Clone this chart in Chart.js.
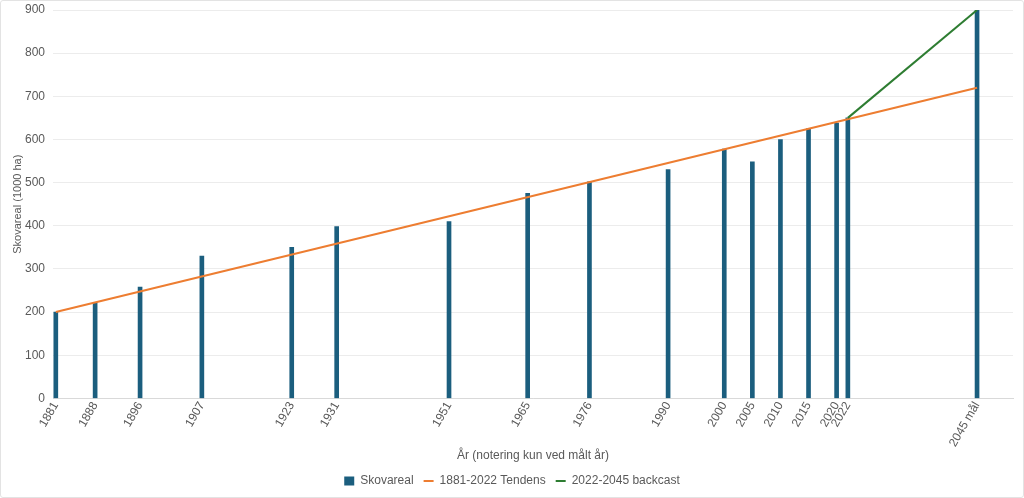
<!DOCTYPE html>
<html>
<head>
<meta charset="utf-8">
<script src="https://cdn.jsdelivr.net/npm/chart.js@4/dist/chart.umd.min.js"></script>
<style>
  html, body { margin: 0; padding: 0; background: #fff; }
  #wrap { width: 1024px; height: 498px; box-sizing: border-box; border: 1px solid #e3e3e3; border-radius: 3px; position: relative; }
  canvas { display: block; }
</style>
</head>
<body>
<div id="wrap"><canvas id="myChart" width="1022" height="496"></canvas></div>
<script>
// measured years and forest area (1000 ha)
const years = [1881, 1888, 1896, 1907, 1923, 1931, 1951, 1965, 1976, 1990, 2000, 2005, 2010, 2015, 2020, 2022, 2045];
const skovareal = [200, 222, 258, 330, 350, 398, 410, 475, 502, 530, 578, 548, 600, 625, 638, 650, 900];

// trend 1881-2022, extended to 2045
const trendYears = [1881, 2045];
const trendValues = [200, 720];

// backcast 2022-2045
const backcastYears = [2022, 2045];
const backcastValues = [650, 900];

const yTicks = [0, 100, 200, 300, 400, 500, 600, 700, 800, 900];

const textColor = '#595959';
Chart.defaults.font.family = "'Liberation Sans', Arial, sans-serif";
Chart.defaults.color = textColor;

const ctx = document.getElementById('myChart').getContext('2d');

new Chart(ctx, {
  data: {
    datasets: [
      {
        type: 'bar',
        label: 'Skovareal',
        data: years.map((y, i) => ({ x: y, y: skovareal[i] })),
        backgroundColor: '#1b5e7e',
        barThickness: 4,
        order: 3
      },
      {
        type: 'line',
        label: '1881-2022 Tendens',
        data: trendYears.map((y, i) => ({ x: y, y: trendValues[i] })),
        borderColor: '#ed7d31',
        backgroundColor: '#ed7d31',
        borderWidth: 2,
        pointRadius: 0,
        order: 2
      },
      {
        type: 'line',
        label: '2022-2045 backcast',
        data: backcastYears.map((y, i) => ({ x: y, y: backcastValues[i] })),
        borderColor: '#2e7d32',
        backgroundColor: '#2e7d32',
        borderWidth: 2,
        pointRadius: 0,
        order: 1
      }
    ]
  },
  options: {
    responsive: false,
    animation: false,
    layout: { padding: 0 },
    plugins: {
      tooltip: { enabled: false },
      legend: {
        position: 'bottom',
        labels: {
          color: textColor,
          font: { size: 12 },
          usePointStyle: true,
          pointStyleWidth: 10,
          boxHeight: 9,
          padding: 10,
          generateLabels: chart => chart.data.datasets.map((ds, i) => ({
            text: ds.label,
            fillStyle: ds.backgroundColor,
            strokeStyle: ds.backgroundColor,
            lineWidth: ds.type === 'bar' ? 0 : 2,
            datasetIndex: i,
            pointStyle: ds.type === 'bar' ? 'rect' : 'line',
            fontColor: textColor
          }))
        }
      }
    },
    scales: {
      x: {
        type: 'linear',
        offset: false,
        min: 1880.5,
        max: 2051.4,
        afterBuildTicks: axis => { axis.ticks = years.map(v => ({ value: v })); },
        afterFit: s => { s.paddingLeft = 0; s.paddingRight = 10; s.height = 66.6; },
        ticks: {
          autoSkip: false,
          minRotation: 60,
          maxRotation: 60,
          color: textColor,
          font: { size: 12 },
          padding: 1,
          callback: v => v === 2045 ? '2045 mål' : String(v)
        },
        grid: { display: false, drawTicks: false, tickLength: 0, offset: false },
        border: { color: '#d9d9d9' },
        title: {
          display: true,
          text: 'År (notering kun ved målt år)',
          color: textColor,
          font: { size: 12 },
          padding: { top: 4, bottom: 2 }
        }
      },
      y: {
        min: 0,
        max: 900,
        afterBuildTicks: axis => { axis.ticks = yTicks.map(v => ({ value: v })); },
        afterFit: s => { s.width = 52; s.paddingTop = 9; s.paddingBottom = 0; },
        ticks: { color: textColor, font: { size: 12 }, padding: 8 },
        grid: { color: '#ececec', drawTicks: false },
        border: { display: false },
        title: {
          display: true,
          text: 'Skovareal (1000 ha)',
          color: textColor,
          font: { size: 11 },
          padding: { top: 10, bottom: 2 }
        }
      }
    }
  }
});
</script>
</body>
</html>
